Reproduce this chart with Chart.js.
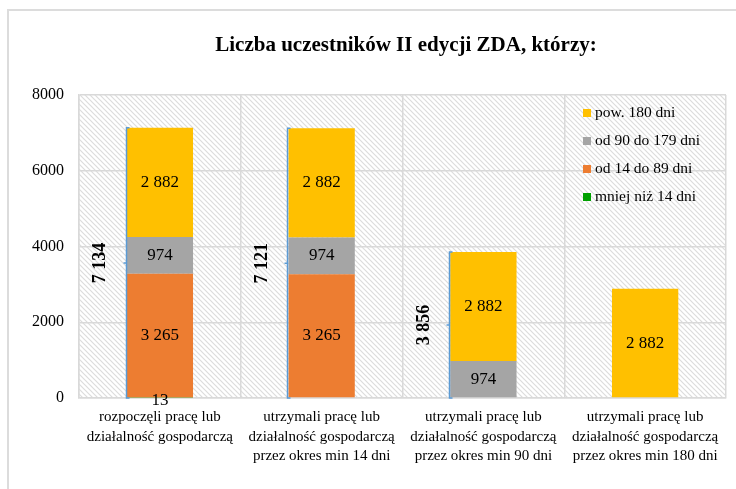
<!DOCTYPE html>
<html><head><meta charset="utf-8">
<script src="https://cdn.jsdelivr.net/npm/chart.js@4.4.0/dist/chart.umd.min.js"></script>
<style>
html,body{margin:0;padding:0;background:#fff;overflow:hidden}
#wrap{position:relative;width:736px;height:489px}
#frame{position:absolute;left:7px;top:9px;width:800px;height:600px;border:2px solid #dcdcdc;box-sizing:border-box}
canvas{position:absolute;left:0;top:0}
</style></head><body>
<div id="wrap"><div id="frame"></div><canvas id="c" width="736" height="489"></canvas></div>
<script>
const chartTitle = 'Liczba uczestników II edycji ZDA, którzy:';
const categories = [
  ['rozpoczęli pracę lub', 'działalność gospodarczą'],
  ['utrzymali pracę lub', 'działalność gospodarczą', 'przez okres min 14 dni'],
  ['utrzymali pracę lub', 'działalność gospodarczą', 'przez okres min 90 dni'],
  ['utrzymali pracę lub', 'działalność gospodarczą', 'przez okres min 180 dni']
];
const seriesNames = ['mniej niż 14 dni', 'od 14 do 89 dni', 'od 90 do 179 dni', 'pow. 180 dni'];
const lessThan14 = [13, 0, 0, 0];
const from14to89 = [3265, 3265, 0, 0];
const from90to179 = [974, 974, 974, 0];
const over180 = [2882, 2882, 2882, 2882];
const yTickValues = [0, 2000, 4000, 6000, 8000];

const seriesColors = ['#00A000', '#ED7D31', '#A5A5A5', '#FFC000'];
const SERIF = "'Liberation Serif', 'Times New Roman', serif";

function fmt(v) { return String(v).replace(/\B(?=(\d{3})+(?!\d))/g, ' '); }

const canvas = document.getElementById('c');

function makeHatch(ctx) {
  const p = document.createElement('canvas');
  p.width = 5; p.height = 5;
  const g = p.getContext('2d');
  g.strokeStyle = '#dcdcdc';
  g.lineWidth = 1.2;
  g.beginPath();
  g.moveTo(-1, -1); g.lineTo(6, 6);
  g.moveTo(-1, 4); g.lineTo(1, 6);
  g.moveTo(4, -1); g.lineTo(6, 1);
  g.stroke();
  return ctx.createPattern(p, 'repeat');
}

const hatchPlugin = {
  id: 'hatch',
  beforeDraw(chart) {
    const { ctx, chartArea: a } = chart;
    ctx.save();
    ctx.fillStyle = makeHatch(ctx);
    ctx.fillRect(a.left, a.top, a.right - a.left, a.bottom - a.top);
    // title
    ctx.font = 'bold 21px ' + SERIF;
    ctx.fillStyle = '#000';
    ctx.textAlign = 'center';
    ctx.textBaseline = 'middle';
    ctx.fillText(chartTitle, 406, 46);
    ctx.restore();
  }
};

const labelPlugin = {
  id: 'labels',
  afterDatasetsDraw(chart) {
    const ctx = chart.ctx;
    ctx.save();
    ctx.font = '17px ' + SERIF;
    ctx.fillStyle = '#000';
    ctx.textAlign = 'center';
    ctx.textBaseline = 'middle';
    chart.data.datasets.forEach((ds, di) => {
      const meta = chart.getDatasetMeta(di);
      meta.data.forEach((bar, i) => {
        const v = ds.data[i];
        if (!v) return;
        const p = bar.getProps(['x', 'y', 'base'], true);
        const off = Math.abs(p.base - p.y) < 6 ? 3 : 0;
        ctx.fillText(fmt(v), p.x, (p.y + p.base) / 2 + off);
      });
    });
    // totals with bracket
    const yScale = chart.scales.y;
    const n = chart.data.labels.length;
    for (let i = 0; i < n; i++) {
      let total = 0, count = 0, top = Infinity, left = null;
      chart.data.datasets.forEach((ds, di) => {
        const v = ds.data[i];
        const bar = chart.getDatasetMeta(di).data[i];
        const p = bar.getProps(['x', 'y', 'width'], true);
        if (left === null) left = p.x - p.width / 2;
        if (v) { total += v; count++; top = Math.min(top, p.y); }
      });
      if (count < 2) continue;
      const base = yScale.getPixelForValue(0);
      const bx = Math.round(left) - 0.5;
      ctx.strokeStyle = '#5B9BD5';
      ctx.lineWidth = 1.5;
      ctx.beginPath();
      ctx.moveTo(bx + 3, top); ctx.lineTo(bx, top); ctx.lineTo(bx, base); ctx.lineTo(bx + 3, base);
      const mid = (top + base) / 2;
      ctx.moveTo(bx, mid); ctx.lineTo(bx - 3, mid);
      ctx.stroke();
      ctx.save();
      ctx.translate(left - 26, mid);
      ctx.rotate(-Math.PI / 2);
      ctx.font = 'bold 18px ' + SERIF;
      ctx.fillStyle = '#000';
      ctx.fillText(fmt(total), 0, 0);
      ctx.restore();
    }
    ctx.restore();
  },
  afterDraw(chart) {
    // legend inside plot, top-right, reversed order
    const ctx = chart.ctx;
    const a = chart.chartArea;
    ctx.save();
    ctx.font = '15.5px ' + SERIF;
    ctx.textBaseline = 'middle';
    ctx.textAlign = 'left';
    const dsets = chart.data.datasets.slice().reverse();
    dsets.forEach((ds, k) => {
      const cy = a.top + 18 + k * 28;
      const sx = a.right - 143;
      ctx.fillStyle = ds.backgroundColor;
      ctx.fillRect(sx, cy - 4, 8, 8);
      ctx.fillStyle = '#000';
      ctx.fillText(ds.label, sx + 12, cy);
    });
    ctx.restore();
  }
};

const seriesData = [lessThan14, from14to89, from90to179, over180];

new Chart(canvas, {
  type: 'bar',
  data: {
    labels: categories,
    datasets: seriesNames.map((name, i) => ({
      label: name,
      data: seriesData[i],
      backgroundColor: seriesColors[i],
      borderWidth: 0,
      categoryPercentage: 1,
      barPercentage: 0.41
    }))
  },
  options: {
    responsive: false,
    animation: false,
    devicePixelRatio: 1,
    layout: { padding: { left: 0, right: 10, top: 95, bottom: 0 } },
    plugins: {
      legend: { display: false },
      tooltip: { enabled: false },
      title: { display: false }
    },
    scales: {
      x: {
        stacked: true,
        grid: { color: '#d9d9d9', lineWidth: 1.5, drawTicks: false, offset: true },
        border: { color: '#d9d9d9', width: 1.5 },
        ticks: { color: '#000', font: { family: SERIF, size: 15, lineHeight: 1.27 }, padding: 10, maxRotation: 0, autoSkip: false },
        afterFit(s) { s.height = 91; }
      },
      y: {
        stacked: true,
        min: 0, max: 8000,
        afterBuildTicks(s) { s.ticks = yTickValues.map(v => ({ value: v })); },
        grid: { color: '#d9d9d9', lineWidth: 1.5, drawTicks: false },
        border: { color: '#d9d9d9', width: 1.5 },
        ticks: { color: '#000', font: { family: SERIF, size: 16 }, padding: 15, callback: v => String(v) },
        afterFit(s) { s.width = 79; }
      }
    }
  },
  plugins: [hatchPlugin, labelPlugin]
});
</script>
</body></html>
